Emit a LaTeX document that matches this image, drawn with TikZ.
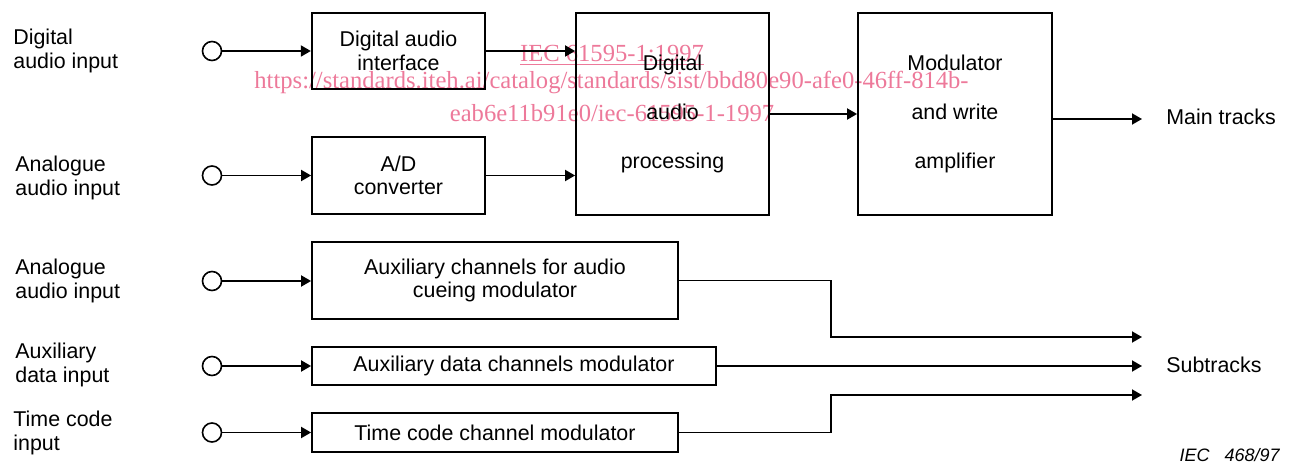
\documentclass[tikz,border=0pt]{standalone}
\usepackage{fontspec}
\setmainfont{Liberation Sans}
\newfontfamily\wmfont{Liberation Serif}
\usetikzlibrary{arrows.meta}
\definecolor{wmpink}{RGB}{237,121,154}

\begin{document}
\begin{tikzpicture}[x=0.5pt,y=-0.5pt,
		font=\fontsize{10.7}{11.7}\selectfont,
		blk/.style={draw,line width=0.9pt,inner sep=0pt,align=center},
		jack/.style={circle,draw,line width=0.8pt,minimum size=9.5pt,inner sep=0pt},
		wire/.style={line width=0.9pt},
		inlabel/.style={anchor=west,align=left,inner sep=0pt},
		outlabel/.style={anchor=west,inner sep=0pt},
		wm/.style={anchor=base,inner sep=0pt,text=wmpink,font=\wmfont\fontsize{12.3}{13}\selectfont}]
					\tikzset{>={Triangle[length=5pt,width=5.5pt]}}
					\useasboundingbox (0,0) rectangle (1292,465);
					% watermark
					\node[wm] (wm1) at (612,61.7) {\underline{IEC 61595-1:1997}};
					\node[wm] (wm2) at (611.5,89) {https://standards.iteh.ai/catalog/standards/sist/bbd80e90-afe0-46ff-814b-};
					\node[wm] (wm3) at (612,121.7) {eab6e11b91e0/iec-61595-1-1997};
					% inputs
					\node[inlabel] (in1) at (13,51) {Digital\\audio input};
					\node[inlabel] (in2) at (15,178) {Analogue\\audio input};
					\node[inlabel] (in3) at (15,281) {Analogue\\audio input};
					\node[inlabel] (in4) at (15,365) {Auxiliary\\data input};
					\node[inlabel] (in5) at (13,433) {Time code\\input};
					\node[jack] (c1) at (212,51) {};
					\node[jack] (c2) at (212,175.5) {};
					\node[jack] (c3) at (212,281) {};
					\node[jack] (c4) at (212,366) {};
					\node[jack] (c5) at (212,432.5) {};
					% blocks
					\node[blk,minimum width=86.75pt,minimum height=38.3pt] (dai) at (398.5,51) {Digital audio\\interface};
					\node[blk,minimum width=86.5pt,minimum height=38.5pt] (ad) at (398.5,175.5) {A/D\\converter};
					\node[blk,minimum width=96.5pt,minimum height=101pt] (dap) at (672.5,114) {Digital\\[13pt]audio\\[13pt]processing};
					\node[blk,minimum width=97pt,minimum height=101pt] (mod) at (955,114) {Modulator\\[13pt]and write\\[13pt]amplifier};
					\node[blk,minimum width=183pt,minimum height=38.3pt] (auxch) at (495,280.5) {Auxiliary channels for audio\\cueing modulator};
					\node[blk,minimum width=202pt,minimum height=19.3pt] (auxdata) at (514,366) {Auxiliary data channels modulator};
					\node[blk,minimum width=183pt,minimum height=19.5pt] (tc) at (495,432.5) {Time code channel modulator};
					% outputs
					\coordinate (mainend) at (1142,119);
					\coordinate (sub1) at (1142,337);
					\coordinate (sub2) at (1142,366);
					\coordinate (sub3) at (1142,395);
					\node[outlabel] (main) at (1166,117) {Main tracks};
					\node[outlabel] (subt) at (1166,365) {Subtracks};
					\node[anchor=east,inner sep=0pt,font=\itshape\fontsize{9}{10}\selectfont] (iec) at (1280,455) {IEC~~~468/97};
					% connections
					\draw[wire,->] (c1) -- (c1 -| dai.west);
					\draw[wire,->] (c2) -- (c2 -| ad.west);
					\draw[wire,->] (c3) -- (c3 -| auxch.west);
					\draw[wire,->] (c4) -- (c4 -| auxdata.west);
					\draw[wire,->] (c5) -- (c5 -| tc.west);
					\draw[wire,->] (dai.east) -- (dai.east -| dap.west);
					\draw[wire,->] (ad.east) -- (ad.east -| dap.west);
					\draw[wire,->] (dap.east) -- (mod.west);
					\draw[wire,->] (mainend -| mod.east) -- (mainend);
					\draw[wire,->] (auxch.east) -| (831,337) -- (sub1);
					\draw[wire,->] (auxdata.east) -- (sub2);
					\draw[wire,->] (tc.east) -| (831,395) -- (sub3);
				\end{tikzpicture}
\end{document}
